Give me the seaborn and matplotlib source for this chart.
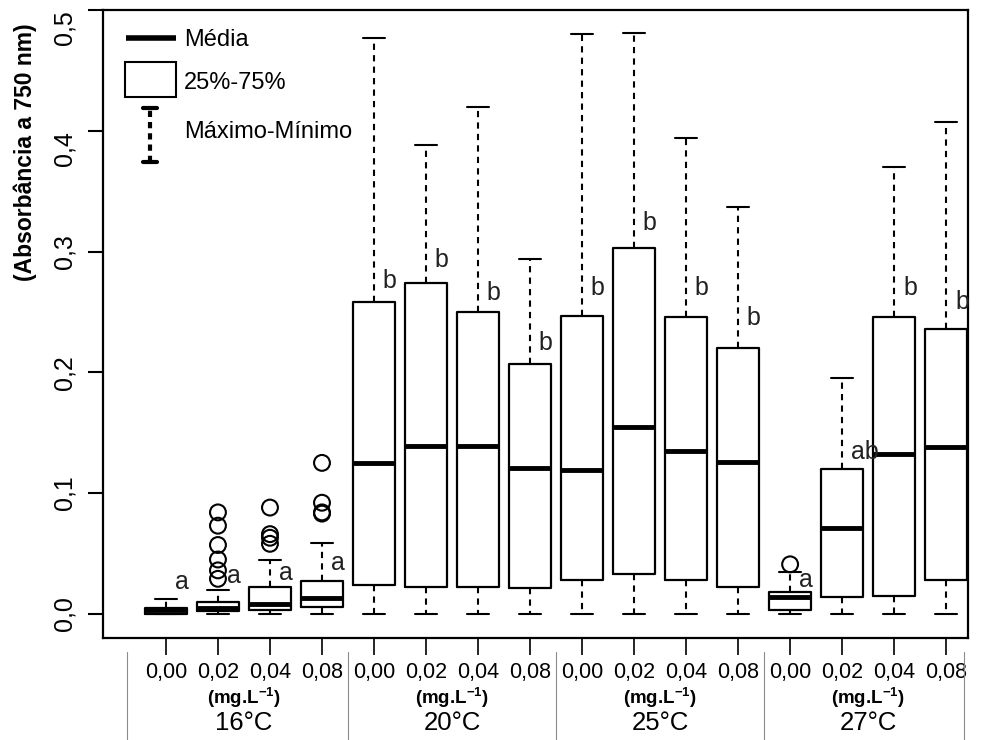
import matplotlib
matplotlib.use("Agg")
import matplotlib.pyplot as plt
import matplotlib.transforms as mtransforms
from matplotlib.patches import Rectangle
import pandas as pd
import seaborn as sns

# --- data ---
concentrations = ["0,00", "0,02", "0,04", "0,08"]
temperatures = ["16°C", "20°C", "25°C", "27°C"]

whisker_low = [0.0, 0.0, 0.0, 0.0, 0.0, 0.0, 0.0, 0.0,
               0.0, 0.0, 0.0, 0.0, 0.0, 0.0, 0.0, 0.0]
q1 = [0.000, 0.002, 0.003, 0.006, 0.024, 0.022, 0.022, 0.021,
      0.028, 0.033, 0.028, 0.022, 0.003, 0.014, 0.015, 0.028]
median = [0.003, 0.005, 0.008, 0.013, 0.125, 0.139, 0.139, 0.121,
          0.119, 0.155, 0.135, 0.126, 0.014, 0.071, 0.132, 0.138]
q3 = [0.005, 0.010, 0.022, 0.027, 0.258, 0.274, 0.250, 0.207,
      0.247, 0.303, 0.246, 0.220, 0.018, 0.120, 0.246, 0.236]
whisker_high = [0.012, 0.020, 0.045, 0.059, 0.477, 0.388, 0.420, 0.294,
                0.480, 0.481, 0.394, 0.337, 0.035, 0.195, 0.370, 0.407]
outliers = [[], [0.084, 0.073, 0.057, 0.045, 0.036, 0.029],
            [0.088, 0.066, 0.063, 0.058], [0.125, 0.092, 0.084, 0.083],
            [], [], [], [], [], [], [], [], [0.041], [], [], []]
letters = ["a", "a", "a", "a", "b", "b", "b", "b",
           "b", "b", "b", "b", "a", "ab", "b", "b"]
letter_y = [0.026, 0.031, 0.034, 0.042, 0.276, 0.293, 0.266, 0.224,
            0.270, 0.324, 0.270, 0.245, 0.028, 0.134, 0.270, 0.258]

sns.set_style("white")
plt.rcParams['font.family'] = ['Liberation Sans', 'DejaVu Sans']
plt.rcParams['text.color'] = 'black'
plt.rcParams['mathtext.fontset'] = 'custom'
plt.rcParams['mathtext.rm'] = 'Liberation Sans'
plt.rcParams['mathtext.bf'] = 'Liberation Sans:bold'

n = len(median)
positions = list(range(n))

fig = plt.figure(figsize=(9.97, 7.4), dpi=100)
ax = fig.add_axes([103 / 997, 1 - 638 / 740, 865 / 997, 628 / 740])

stats = []
for i in range(n):
    stats.append(dict(whislo=whisker_low[i], q1=q1[i], med=median[i],
                      q3=q3[i], whishi=whisker_high[i], fliers=[]))

ax.bxp(stats, positions=positions, widths=0.82, capwidths=0.41,
       showfliers=False,
       boxprops=dict(color='black', linewidth=1.6),
       whiskerprops=dict(color='black', linewidth=1.5, linestyle=(0, (3, 2.5))),
       capprops=dict(color='black', linewidth=1.5),
       medianprops=dict(color='black', linewidth=3.5, solid_capstyle='butt'))

# outliers
rows = []
for i, vals in enumerate(outliers):
    for v in vals:
        rows.append({'pos': i, 'value': v})
df_out = pd.DataFrame(rows)
sns.scatterplot(data=df_out, x='pos', y='value', ax=ax, marker='o', s=130,
                facecolor='none', edgecolor='black', linewidth=1.5, zorder=3)

# significance letters
for i in range(n):
    ax.text(positions[i] + 0.17, letter_y[i], letters[i], fontsize=18,
            ha='left', va='center', color='#222222')

ax.set_xlim(-1.21, 15.42)
ax.set_ylim(-0.02, 0.5)
ax.set_xlabel('')
ax.set_ylabel('')

yt = [0.0, 0.1, 0.2, 0.3, 0.4, 0.5]
ax.set_yticks(yt)
ax.set_yticklabels([f"{v:.1f}".replace('.', ',') for v in yt],
                   rotation=90, va='center')
ax.tick_params(axis='y', left=True, direction='out', length=11, width=1.5,
               labelsize=18, pad=8, colors='black')
ylabs = ax.get_yticklabels()
for lab in ylabs[4:]:
    lab.set_va('top')
ax.set_xticks(positions)
ax.set_xticklabels(concentrations * len(temperatures))
ax.tick_params(axis='x', bottom=True, direction='out', length=12, width=1.2,
               labelsize=15.5, pad=5, colors='black')
for sp in ax.spines.values():
    sp.set_color('black')
    sp.set_linewidth(1.6)

# table below the axis
trans = mtransforms.blended_transform_factory(ax.transData, fig.transFigure)
for xs in [-0.75, 3.5, 7.5, 11.5, 15.34]:
    ax.plot([xs, xs], [1 - 652 / 740, 0], transform=trans, clip_on=False,
            color='0.55', linewidth=0.8)
for g, t in enumerate(temperatures):
    xc = 1.5 + 4 * g
    ax.text(xc, 1 - 698 / 740, r"(mg.L$^{\mathbf{-1}}$)", transform=trans,
            ha='center', va='center', fontsize=13.5, fontweight='bold')
    ax.text(xc, 1 - 723 / 740, t, transform=trans, ha='center', va='center',
            fontsize=18.5)

# hand drawn legend (axes fraction)
ta = ax.transAxes
ax.plot([0.0266, 0.0844], [0.955, 0.955], transform=ta, color='black',
        linewidth=4, solid_capstyle='butt')
ax.text(0.0936, 0.953, "Média", transform=ta, fontsize=17, va='center')
ax.add_patch(Rectangle((0.0254, 0.8615), 0.059, 0.0557, transform=ta,
                       fill=False, edgecolor='black', linewidth=1.5))
ax.text(0.0936, 0.884, "25%-75%", transform=ta, fontsize=17, va='center')
ax.plot([0.0543, 0.0543], [0.758, 0.844], transform=ta, color='black',
        linewidth=3, linestyle=(0, (1.5, 1.2)))
for yy in [0.758, 0.844]:
    ax.plot([0.046, 0.0624], [yy, yy], transform=ta, color='black', linewidth=3)
ax.text(0.0936, 0.806, "Máximo-Mínimo", transform=ta, fontsize=17, va='center')

fig.text(25 / 997, 1 - 152 / 740, "(Absorbância a 750 nm)", rotation=90,
         ha='center', va='center', fontsize=16.5, fontweight='bold')

fig.savefig("out.png", dpi=100)
